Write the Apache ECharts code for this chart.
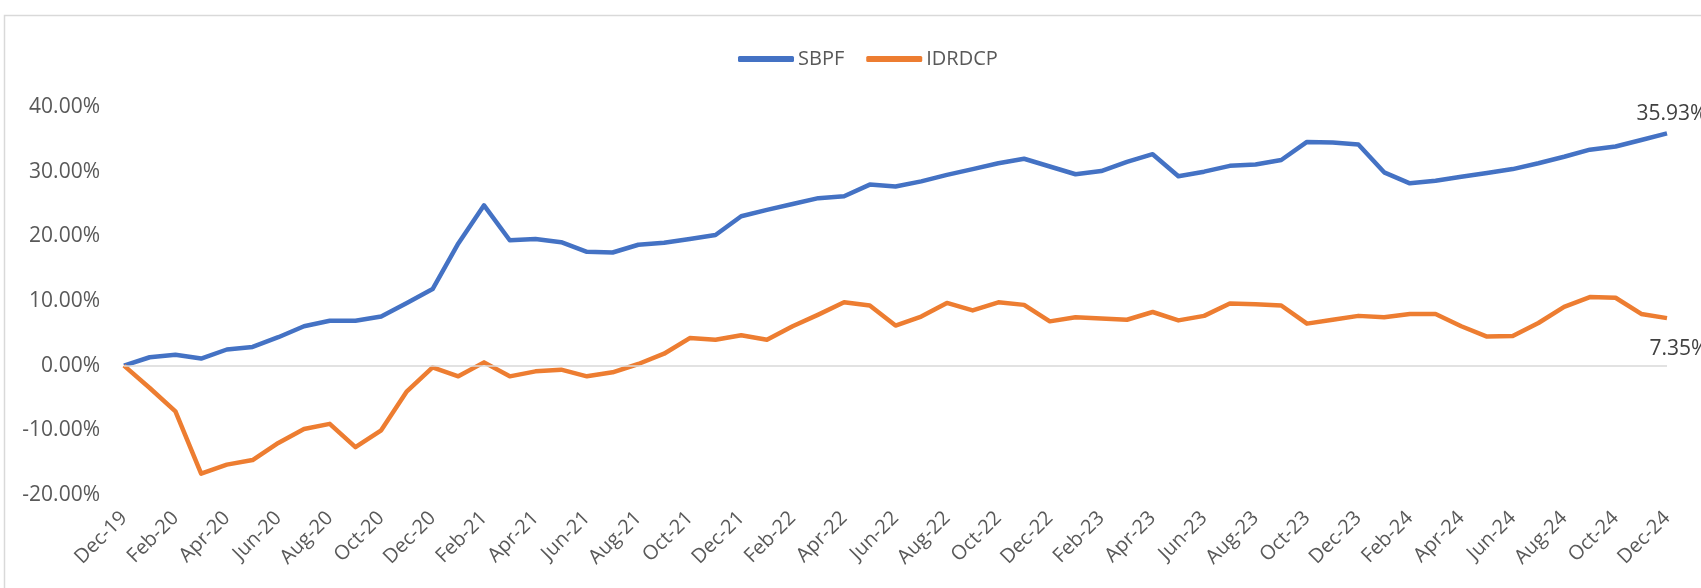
<!DOCTYPE html>
<html>
<head>
<meta charset="utf-8">
<script src="https://cdn.jsdelivr.net/npm/echarts@6/dist/echarts.min.js"></script>
<style>
  html, body { margin: 0; padding: 0; background: #fff; }
  #chart { width: 1701px; height: 588px; }
</style>
</head>
<body>
<div id="chart"></div>
<script>
var months = [
  'Dec-19',
  'Jan-20', 'Feb-20', 'Mar-20', 'Apr-20', 'May-20', 'Jun-20', 'Jul-20', 'Aug-20', 'Sep-20', 'Oct-20', 'Nov-20', 'Dec-20',
  'Jan-21', 'Feb-21', 'Mar-21', 'Apr-21', 'May-21', 'Jun-21', 'Jul-21', 'Aug-21', 'Sep-21', 'Oct-21', 'Nov-21', 'Dec-21',
  'Jan-22', 'Feb-22', 'Mar-22', 'Apr-22', 'May-22', 'Jun-22', 'Jul-22', 'Aug-22', 'Sep-22', 'Oct-22', 'Nov-22', 'Dec-22',
  'Jan-23', 'Feb-23', 'Mar-23', 'Apr-23', 'May-23', 'Jun-23', 'Jul-23', 'Aug-23', 'Sep-23', 'Oct-23', 'Nov-23', 'Dec-23',
  'Jan-24', 'Feb-24', 'Mar-24', 'Apr-24', 'May-24', 'Jun-24', 'Jul-24', 'Aug-24', 'Sep-24', 'Oct-24', 'Nov-24', 'Dec-24'
]

// cumulative return, %
var sbpf = [
  0,
  1.3, 1.7, 1.1, 2.5, 2.9, 4.4, 6.1, 6.95, 6.95, 7.6, 9.7, 11.85,
  18.9, 24.8, 19.4, 19.6, 19.1, 17.6, 17.5, 18.7, 19.0, 19.6, 20.2, 23.1,
  24.1, 25.0, 25.9, 26.2, 28.0, 27.7, 28.5, 29.5, 30.4, 31.3, 32.0, 30.8,
  29.6, 30.1, 31.5, 32.7, 29.3, 30.0, 30.9, 31.1, 31.8, 34.6, 34.5, 34.2,
  29.9, 28.2, 28.6, 29.2, 29.8, 30.4, 31.3, 32.3, 33.4, 33.9, 34.9, 35.93
]
var idrdcp = [
  0,
  -3.45, -7.06, -16.7, -15.3, -14.6, -11.95, -9.8, -9.0, -12.6, -10.0, -3.97, -0.26,
  -1.65, 0.51, -1.65, -0.88, -0.62, -1.65, -1.03, 0.26, 1.85, 4.27, 4.0, 4.7,
  4.0, 6.1, 7.9, 9.8, 9.3, 6.2, 7.6, 9.7, 8.55, 9.8, 9.4, 6.85,
  7.5, 7.3, 7.1, 8.3, 7.0, 7.7, 9.6, 9.5, 9.3, 6.5, 7.1, 7.7,
  7.5, 8.0, 8.0, 6.1, 4.5, 4.6, 6.6, 9.1, 10.6, 10.5, 8.0, 7.35
]

var yTicks = { min: -20, max: 40, interval: 10 }
var textColor = '#595959'
var fontFamily = '"Open Sans", sans-serif'

// only the last point gets a value label
function withEndLabel(arr, labelOpts) {
  return arr.map(function(v, i) {
    if (i !== arr.length - 1) return v
    return { value: v, label: Object.assign({ show: true }, labelOpts) }
  })
}

var chart = echarts.init(document.getElementById('chart'))

chart.setOption({
  animation: false,
  textStyle: { fontFamily: fontFamily },
  graphic: [
    {
      type: 'rect',
      shape: { x: 4.5, y: 15.5, width: 1800, height: 700 },
      style: { fill: 'none', stroke: '#d9d9d9', lineWidth: 1.5 },
      silent: true
    }
  ],
  legend: {
    left: 733,
    top: 44,
    icon: 'roundRect',
    itemWidth: 56,
    itemHeight: 6,
    itemGap: 22,
    textStyle: { color: textColor, fontSize: 20, fontFamily: fontFamily, padding: [0, 0, 0, -1] },
    data: ['SBPF', 'IDRDCP']
  },
  grid: {
    left: 124,
    right: 34,
    top: 107,
    bottom: 93,
    containLabel: false
  },
  xAxis: {
    type: 'category',
    boundaryGap: false,
    data: months,
    axisLine: { show: false },
    axisTick: { show: false },
    splitLine: { show: false },
    axisLabel: {
      interval: 1,
      rotate: 45,
      margin: 20,
      color: textColor,
      fontSize: 20,
      fontFamily: fontFamily
    }
  },
  yAxis: {
    type: 'value',
    min: yTicks.min,
    max: yTicks.max,
    interval: yTicks.interval,
    axisLine: { show: false },
    axisTick: { show: false },
    splitLine: { show: false },
    axisLabel: {
      margin: 24,
      color: textColor,
      fontSize: 21,
      fontFamily: fontFamily,
      formatter: function(v) { return v.toFixed(2) + '%' }
    }
  },
  series: [
    {
      name: 'SBPF',
      type: 'line',
      symbol: 'circle',
      symbolSize: 0.1,
      showSymbol: true,
      showAllSymbol: true,
      data: withEndLabel(sbpf, {
        position: 'top',
        distance: 9,
        offset: [5, 0],
        color: '#404040',
        fontSize: 21,
        fontFamily: fontFamily,
        formatter: function(p) { return p.value.toFixed(2) + '%' }
      }),
      lineStyle: { color: '#4472C4', width: 4.5, join: 'round' },
      itemStyle: { color: '#4472C4' },
      z: 3,
      markLine: {
        silent: true,
        symbol: 'none',
        label: { show: false },
        lineStyle: { color: '#d9d9d9', width: 1.5, type: 'solid' },
        data: [{ yAxis: 0 }]
      }
    },
    {
      name: 'IDRDCP',
      type: 'line',
      symbol: 'circle',
      symbolSize: 0.1,
      showSymbol: true,
      showAllSymbol: true,
      data: withEndLabel(idrdcp, {
        position: 'bottom',
        distance: 20,
        offset: [12, 0],
        color: '#404040',
        fontSize: 21,
        fontFamily: fontFamily,
        formatter: function(p) { return p.value.toFixed(2) + '%' }
      }),
      lineStyle: { color: '#ED7D31', width: 4.5, join: 'round' },
      itemStyle: { color: '#ED7D31' },
      z: 4
    }
  ]
})
</script>
</body>
</html>
